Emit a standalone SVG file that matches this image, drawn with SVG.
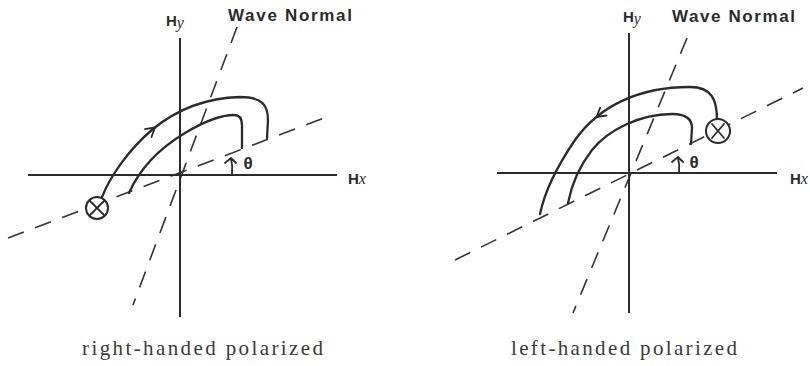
<svg xmlns="http://www.w3.org/2000/svg" width="810" height="366" viewBox="0 0 810 366">
<style>
.axis{stroke:#2b2b2b;stroke-width:2;fill:none}
.dash{stroke:#333;stroke-width:1.6;fill:none;stroke-dasharray:17 12}
.curve{stroke:#2b2b2b;stroke-width:2.3;fill:none;stroke-linecap:round;stroke-linejoin:round}
.thin{stroke:#2b2b2b;stroke-width:1.8;fill:none;stroke-linecap:round;stroke-linejoin:round}
.ring{fill:#fff;stroke:#2b2b2b;stroke-width:2}
.lbl{font-family:"Liberation Sans",Arial,sans-serif;font-weight:bold;fill:#2b2b2b}
.it{font-family:"Liberation Serif","Times New Roman",serif;font-style:italic;font-weight:normal}
.cap{font-family:"Liberation Serif","Times New Roman",serif;font-size:21px;fill:#3a3a3a}
</style>
<rect width="810" height="366" fill="#fff"/>

<g id="right-handed">
  <line class="dash" x1="237" y1="27" x2="133" y2="305"/>
  <line class="dash" x1="8" y1="238" x2="332" y2="115"/>
  <line class="axis" x1="180" y1="38" x2="180" y2="317"/>
  <line class="axis" x1="28" y1="175" x2="337" y2="175"/>
  <path class="curve" d="M102,197 C110,177 128,150 153,129 C175,111 205,98 240,97 C262,97 268,105 268,120 L267,138"/>
  <path class="curve" d="M129,193 C140,168 160,148 185,133 C205,121 222,115 234,115 C240,115 242,119 242,125 L242,148"/>
  <path class="thin" d="M145,129.2 L155,127.5 L151.5,137"/>
  <circle class="ring" cx="97" cy="208" r="11"/>
  <path class="thin" d="M90,201 L104,215 M104,201 L90,215"/>
  <path class="thin" d="M232,174 Q233,166 231,159 M225,163 L231,158 L236,163"/>
  <text class="lbl" x="248" y="169" font-size="17" text-anchor="middle">θ</text>
  <text class="lbl" x="166" y="26" font-size="15">H<tspan class="it" font-size="16" dy="2">y</tspan></text>
  <text class="lbl" x="228" y="21" font-size="17" textLength="124" lengthAdjust="spacing">Wave Normal</text>
  <text class="lbl" x="348" y="184" font-size="15">H<tspan class="it" font-size="16">x</tspan></text>
  <text class="cap" x="82" y="355" textLength="241" lengthAdjust="spacing">right-handed polarized</text>
</g>

<g id="left-handed">
  <line class="dash" x1="687" y1="38" x2="573" y2="313"/>
  <line class="dash" x1="455" y1="260" x2="803" y2="88"/>
  <line class="axis" x1="629" y1="33" x2="629" y2="313"/>
  <line class="axis" x1="497" y1="173" x2="777" y2="173"/>
  <path class="curve" d="M717,120 C717,100 712,87 690,87 C640,87 600,105 575,140 C560,162 545,190 540,214"/>
  <path class="curve" d="M691,144 L692,128 C692,118 684,114 672,114 C640,114 608,130 592,150 C582,163 572,182 568,203"/>
  <path class="thin" d="M606.4,115.5 L596.5,117 L600.2,107.7"/>
  <circle class="ring" cx="718" cy="131" r="12"/>
  <path class="thin" d="M712,124 L724,138 M724,124 L712,138"/>
  <path class="thin" d="M679,173 Q680,165 678,158 M672,162 L678,157 L683,162"/>
  <text class="lbl" x="694" y="168" font-size="17" text-anchor="middle">θ</text>
  <text class="lbl" x="623" y="22" font-size="15">H<tspan class="it" font-size="16" dy="2">y</tspan></text>
  <text class="lbl" x="672" y="22" font-size="17" textLength="123" lengthAdjust="spacing">Wave Normal</text>
  <text class="lbl" x="790" y="184" font-size="15">H<tspan class="it" font-size="16">x</tspan></text>
  <text class="cap" x="511" y="355" textLength="226" lengthAdjust="spacing">left-handed polarized</text>
</g>
</svg>
